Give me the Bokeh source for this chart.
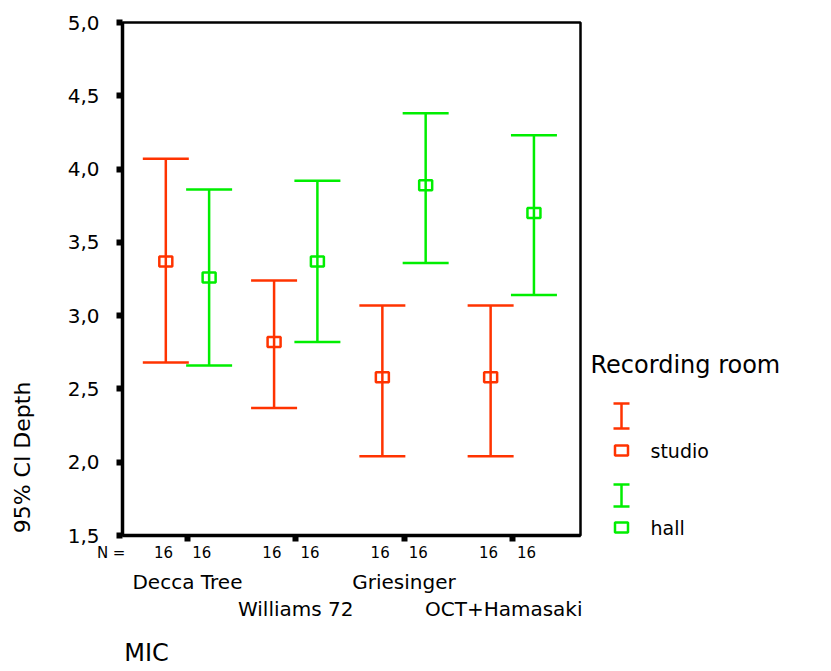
import numpy as np
from bokeh.plotting import figure
from bokeh.models import (Range1d, FixedTicker, Label, ColumnDataSource, Whisker,
                          TeeHead, CustomJSTickFormatter, LinearAxis)
from bokeh.layouts import row
from bokeh.embed import file_html
from bokeh.resources import INLINE

# ---------------- data ----------------
mics = ["Decca Tree", "Williams 72", "Griesinger", "OCT+Hamasaki"]
rooms = ["studio", "hall"]
studio_mean = [3.37, 2.82, 2.58, 2.58]
studio_lo = [2.68, 2.37, 2.04, 2.04]
studio_hi = [4.07, 3.24, 3.07, 3.07]
hall_mean = [3.26, 3.37, 3.89, 3.70]
hall_lo = [2.66, 2.82, 3.36, 3.14]
hall_hi = [3.86, 3.92, 4.38, 4.23]
studio_n = [16, 16, 16, 16]
hall_n = [16, 16, 16, 16]
y_ticks = [1.5, 2.0, 2.5, 3.0, 3.5, 4.0, 4.5, 5.0]
x_title = "MIC"
y_title = "95% CI Depth"
legend_title = "Recording room"

RED = "#ff3300"
GREEN = "#00ee00"
FONT = "DejaVu Sans"
NB = "\u00a0"

# ---------------- layout constants ----------------
W, H = 831, 671
FL, FR, FT, FB = 122, 580, 22, 535
X0, X1 = 0.4, 4.63
Y0, Y1 = 1.5, 5.0
DODGE = 0.2


def dx(px):
    return X0 + (px - FL) * (X1 - X0) / (FR - FL)


def dy(py):
    return Y1 - (py - FT) * (Y1 - Y0) / (FB - FT)


def text_axis(ticks, labels, standoff, size, orientation="horizontal"):
    ax = LinearAxis(ticker=FixedTicker(ticks=ticks),
                    formatter=CustomJSTickFormatter(args=dict(labels=labels),
                                                    code="return labels[index];"))
    ax.axis_line_color = None
    ax.major_tick_line_color = None
    ax.minor_tick_line_color = None
    ax.major_tick_out = 0
    ax.major_tick_in = 0
    ax.minor_tick_out = 0
    ax.minor_tick_in = 0
    ax.major_label_standoff = standoff
    ax.major_label_text_font = FONT
    ax.major_label_text_font_size = size
    ax.major_label_text_color = "black"
    ax.major_label_orientation = orientation
    return ax


pos = np.arange(1, len(mics) + 1)
src_s = ColumnDataSource(dict(x=pos - DODGE, mean=studio_mean, lo=studio_lo, hi=studio_hi))
src_h = ColumnDataSource(dict(x=pos + DODGE, mean=hall_mean, lo=hall_lo, hi=hall_hi))

p = figure(width=FR + 2, height=H, x_range=Range1d(X0, X1), y_range=Range1d(Y0, Y1),
           output_backend="svg", toolbar_location=None, title=None,
           min_border_left=FL, min_border_right=2, min_border_top=FT, min_border_bottom=H - FB)
p.background_fill_color = "white"
p.border_fill_color = "white"
p.outline_line_color = "black"
p.outline_line_width = 2.5
p.xgrid.visible = False
p.ygrid.visible = False

ya = p.yaxis[0]
ya.ticker = FixedTicker(ticks=y_ticks)
ya.formatter = CustomJSTickFormatter(code="return tick.toFixed(1).replace('.', ',');")
ya.major_tick_out = 6
ya.major_tick_in = 0
ya.major_tick_line_width = 6
ya.major_tick_line_color = "black"
ya.minor_tick_out = 0
ya.minor_tick_in = 0
ya.axis_line_width = 3.5
ya.axis_line_color = "black"
ya.major_label_text_font = FONT
ya.major_label_text_font_size = "20px"
ya.major_label_text_color = "black"
ya.major_label_standoff = 17

# N labels on the main x axis (one label per category: "16    16")
n_labels = []
for i, (ns, nh) in enumerate(zip(studio_n, hall_n)):
    core = f"{ns}{NB * 4}{nh}"
    if i == 0:
        n_labels.append("N =" + NB * 6 + core + NB * 14)
    else:
        n_labels.append(core + NB * 2)

xa = p.xaxis[0]
xa.ticker = FixedTicker(ticks=list(pos))
xa.formatter = CustomJSTickFormatter(args=dict(labels=n_labels), code="return labels[index];")
xa.major_tick_out = 6
xa.major_tick_in = 0
xa.major_tick_line_width = 6
xa.major_tick_line_color = "black"
xa.minor_tick_out = 0
xa.minor_tick_in = 0
xa.axis_line_width = 3.5
xa.axis_line_color = "black"
xa.major_label_text_font = FONT
xa.major_label_text_font_size = "15px"
xa.major_label_text_color = "black"
xa.major_label_standoff = 2

# staggered category labels, then the x title
p.add_layout(text_axis(list(pos[0::2]), mics[0::2], 5, "20px"), "below")
p.add_layout(text_axis(list(pos[1::2]), mics[1::2], 0, "20px"), "below")
p.add_layout(text_axis([dx(146)], [x_title], 15, "24px"), "below")
# y title, aligned toward the bottom of the frame
p.add_layout(text_axis([dy(457)], [y_title], 30, "22px", orientation="vertical"), "left")

for src, col in ((src_s, RED), (src_h, GREEN)):
    w = Whisker(source=src, base="x", upper="hi", lower="lo", dimension="height",
                line_color=col, line_width=2.5,
                upper_head=TeeHead(size=46, line_color=col, line_width=2.5),
                lower_head=TeeHead(size=46, line_color=col, line_width=2.5))
    p.add_layout(w)
    p.rect(x="x", y="mean", width=13, height=10, width_units="screen", height_units="screen",
           fill_color=None, line_color=col, line_width=2.5, source=src)

# ---------------- legend panel (pixel-like coordinates) ----------------
lg = figure(width=W - (FR + 2), height=H, x_range=Range1d(FR + 2, W), y_range=Range1d(FB, FT),
            output_backend="svg", toolbar_location=None, title=None,
            x_axis_location=None, y_axis_location=None,
            min_border_left=0, min_border_right=0, min_border_top=FT, min_border_bottom=H - FB)
lg.outline_line_color = None
lg.xgrid.visible = False
lg.ygrid.visible = False
lg.background_fill_color = "white"
lg.border_fill_color = "white"

lg.add_layout(Label(x=590, y=364, text=legend_title, text_align="left", text_baseline="middle",
                    text_font=FONT, text_font_size="24px", text_color="black"))
leg_rows = [(rooms[0], RED, 403, 428, 450), (rooms[1], GREEN, 484, 506, 527)]
for name, col, top, bot, sq in leg_rows:
    lg.segment(x0=[621], y0=[top], x1=[621], y1=[bot], line_color=col, line_width=2.5)
    lg.segment(x0=[613, 613], y0=[top, bot], x1=[629, 629], y1=[top, bot],
               line_color=col, line_width=2.5)
    lg.rect(x=[621], y=[sq], width=13, height=10, width_units="screen", height_units="screen",
            fill_color=None, line_color=col, line_width=2.5)
    lg.add_layout(Label(x=650, y=sq, text=name, text_align="left", text_baseline="middle",
                        text_font=FONT, text_font_size="19px", text_color="black"))

layout = row(p, lg)
open("out.html", "w").write(file_html(layout, INLINE))
